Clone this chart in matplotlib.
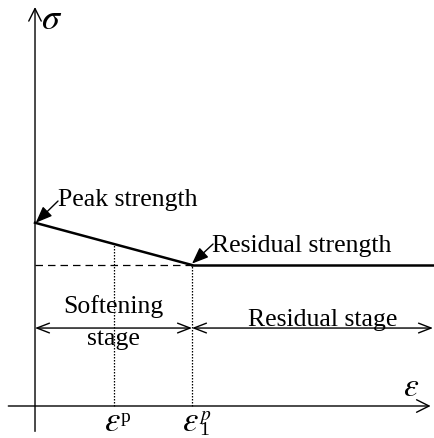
import numpy as np
import matplotlib.pyplot as plt

plt.rcParams['font.family'] = 'Liberation Serif'
plt.rcParams['mathtext.fontset'] = 'stix'

# strain points (softening ends at eps_1^p) and stress levels
strain_marks = [1.0, 2.0]
strain_sups = ['p', '$p$\n1']
sigma_peak = 1.3
sigma_res = 1.0
strain_end = 5.1

fig = plt.figure(figsize=(4.34, 4.39), dpi=100)
ax = fig.add_axes([0, 0, 1, 1])
ax.set_xlim(-0.446, 5.083)
ax.set_ylim(-0.227, 2.887)
ax.axis('off')

# axes with open arrow heads
ax_arrow = dict(arrowstyle='->,head_length=0.9,head_width=0.45', lw=1.0, color='black',
                shrinkA=0, shrinkB=0, mutation_scale=10)
ax.annotate('', xy=(5.04, 0), xytext=(-0.34, 0), arrowprops=ax_arrow)
ax.annotate('', xy=(0, 2.83), xytext=(0, -0.18), arrowprops=ax_arrow)

# softening then residual branch
eps_1p = strain_marks[1]
ax.plot([0, eps_1p], [sigma_peak, sigma_res], color='black', lw=1.8)
ax.plot([eps_1p, strain_end], [sigma_res, sigma_res], color='black', lw=1.8)
ax.plot([0, eps_1p], [sigma_res, sigma_res], color='black', lw=0.9, ls=(0, (6, 4)))

# dotted guides down to the strain axis
for e in strain_marks:
    s = sigma_peak + (sigma_res - sigma_peak) * e / eps_1p
    ax.plot([e, e], [0, s], color='black', lw=0.9, ls=(0, (1.2, 1.2)))

# strain labels: epsilon with raised p (and subscript 1 stacked below it)
for e, sup in zip(strain_marks, strain_sups):
    ax.text(e - 0.02, -0.17, r'$\varepsilon$', ha='center', va='baseline', fontsize=25)
    ax.text(e + 0.09, -0.012, sup, ha='left', va='top', fontsize=14, linespacing=0.75)

# stage arrows
st_arrow = dict(arrowstyle='<->,head_length=0.9,head_width=0.35', lw=1.0, color='black',
                shrinkA=0, shrinkB=0, mutation_scale=10)
y_stage = 0.553
ax.annotate('', xy=(eps_1p, y_stage), xytext=(0, y_stage), arrowprops=st_arrow)
ax.annotate('', xy=(5.07, y_stage), xytext=(eps_1p, y_stage), arrowprops=st_arrow)

ax.text(1.0, 0.71, 'Softening', ha='center', va='center', fontsize=18.5)
ax.text(1.0, 0.48, 'stage', ha='center', va='center', fontsize=18.5)
ax.text(3.66, 0.62, 'Residual stage', ha='center', va='center', fontsize=18.5)

# labels for peak and residual strength
fill_arrow = dict(arrowstyle='-|>,head_length=1.0,head_width=0.4', lw=1.0, color='black',
                  shrinkA=0, shrinkB=0, mutation_scale=10)
ax.text(0.29, 1.47, 'Peak strength', ha='left', va='center', fontsize=18.5)
ax.annotate('', xy=(0.01, sigma_peak), xytext=(0.293, 1.454), arrowprops=fill_arrow)
ax.text(2.25, 1.14, 'Residual strength', ha='left', va='center', fontsize=18.5)
ax.annotate('', xy=(eps_1p, sigma_res + 0.01), xytext=(2.268, 1.149), arrowprops=fill_arrow)

ax.text(0.08, 2.745, r'$\sigma$', ha='left', va='center', fontsize=26)
ax.text(4.79, 0.14, r'$\varepsilon$', ha='center', va='center', fontsize=24)

fig.savefig('out.png', dpi=100)
